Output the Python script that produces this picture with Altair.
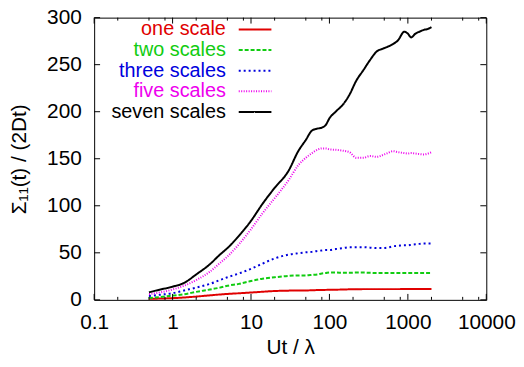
import altair as alt
import pandas as pd

# ---------------- data ----------------
names = ["one scale", "two scales", "three scales", "five scales", "seven scales"]
colors = ["#e00000", "#11cc11", "#0000dd", "#ee00ee", "#000000"]

ut = [0.5, 0.7, 1, 1.4, 2, 3, 4, 5, 7, 10, 14, 20, 30, 40, 50, 60, 70, 80, 90,
      100, 120, 150, 180, 220, 270, 330, 400, 480, 550, 650, 750, 900, 1000,
      1100, 1250, 1400, 1600, 1800, 2000]

one_scale = [1.0, 1.4, 1.8, 2.5, 3.5, 4.8, 5.7, 6.3, 7.0, 7.8, 8.6, 9.4, 9.8, 10.0,
             10.0, 10.2, 10.4, 10.5, 10.6, 10.7, 10.8, 11.0, 11.2, 11.3, 11.4, 11.4,
             11.4, 11.4, 11.4, 11.4, 11.4, 11.5, 11.5, 11.5, 11.5, 11.5, 11.5, 11.5, 11.5]
two_scales = [2.0, 3.0, 4.5, 6.0, 8.5, 11.0, 13.0, 15.0, 17.0, 20.0, 22.5, 24.0, 25.5,
              26.0, 26.0, 26.5, 27.0, 28.0, 28.5, 29.0, 29.0, 28.8, 28.8, 29.0, 29.0,
              28.8, 28.5, 28.5, 28.5, 28.5, 28.5, 28.5, 28.5, 28.5, 28.5, 28.5, 28.5,
              28.5, 28.5]
three_scales = [4.0, 5.5, 7.0, 10.0, 13.0, 17.0, 21.0, 24.0, 28.0, 33.0, 38.5, 44.0,
                48.0, 49.5, 50.5, 51.0, 52.0, 52.5, 53.0, 53.0, 54.0, 55.0, 56.0, 56.0,
                56.0, 55.5, 55.0, 55.0, 55.5, 57.0, 57.5, 58.0, 58.0, 58.5, 59.0, 59.5,
                60.0, 60.0, 60.0]
five_scales = [6.0, 8.0, 11.0, 15.0, 21.0, 30.0, 39.0, 46.0, 59.0, 75.0, 92.0, 108.0,
               127.0, 143.0, 151.0, 156.0, 159.5, 161.0, 161.0, 160.0, 159.5, 158.5,
               157.0, 151.0, 151.0, 153.0, 152.0, 154.0, 156.0, 158.0, 157.0, 156.0,
               155.5, 156.0, 155.5, 155.0, 154.5, 155.5, 157.0]
seven_scales = [8.0, 11.0, 14.0, 18.0, 27.0, 38.0, 48.0, 55.0, 68.0, 84.0, 102.0, 119.0,
                137.0, 158.0, 170.0, 180.0, 182.0, 183.0, 186.0, 193.0, 200.0, 208.0,
                218.0, 233.0, 244.0, 255.0, 264.0, 267.0, 269.0, 272.0, 276.0, 285.0,
                283.0, 279.0, 283.0, 285.0, 287.0, 288.0, 290.0]

x_major = [0.1, 1, 10, 100, 1000, 10000]
x_minor = [0.2, 0.5, 0.8, 2, 5, 8, 20, 50, 80, 200, 500, 800, 2000, 5000, 8000]
y_major = [0, 50, 100, 150, 200, 250, 300]

# ---------------- tables ----------------
series = [one_scale, two_scales, three_scales, five_scales, seven_scales]
rows = []
for n, vals in zip(names, series):
    for x, v in zip(ut, vals):
        rows.append({"series": n, "ut": x, "sigma": v})
df = pd.DataFrame(rows)

legend_df = pd.DataFrame({"series": names, "row": list(range(len(names)))})
xt_df = pd.DataFrame({"ut": x_major + x_minor,
                      "len": [6] * len(x_major) + [3] * len(x_minor)})
yt_df = pd.DataFrame({"sigma": y_major})

W, H = 396, 285
FONT = "Liberation Sans"
FS = 21

xscale = alt.Scale(type="log", domain=[0.1, 10000], nice=False)
yscale = alt.Scale(domain=[0, 300], nice=False, zero=False)

xaxis = alt.Axis(values=x_major, format="~g", ticks=False, domain=False,
                 grid=False, labelPadding=12, labelFontSize=FS,
                 labelFont=FONT, labelColor="black", labelFlush=False,
                 titleFont=FONT, titleFontSize=FS,
                 titleFontWeight="normal", titleColor="black",
                 titleX=W / 2, titleY=54, titleBaseline="alphabetic")
yaxis = alt.Axis(values=y_major, ticks=False, domain=False, grid=False,
                 labelPadding=13, labelFontSize=FS, labelFont=FONT,
                 labelColor="black", labelFlush=False,
                 titleFont=FONT, titleFontSize=FS,
                 titleFontWeight="normal", titleColor="black",
                 titleX=-69, titleY=H / 2, titleAngle=270,
                 titleBaseline="alphabetic", titleAlign="center")
XT = "Ut / λ"
YT = "Σ₁₁(t) / (2Dt)"

color = alt.Color("series:N", scale=alt.Scale(domain=names, range=colors), legend=None)
dash = alt.StrokeDash("series:N",
                      scale=alt.Scale(domain=names,
                                      range=[[1, 0], [4, 2], [2, 3], [1, 1.5], [1, 0]]),
                      legend=None)
swidth = alt.StrokeWidth("series:N",
                         scale=alt.Scale(domain=names, range=[2, 2, 2.5, 1.6, 2]),
                         legend=None)

lines = alt.Chart(df).mark_line(strokeCap="butt", interpolate="monotone").encode(
    x=alt.X("ut:Q", scale=xscale, axis=xaxis, title=XT),
    y=alt.Y("sigma:Q", scale=yscale, axis=yaxis, title=YT),
    color=color,
    strokeDash=dash,
    strokeWidth=swidth,
    detail="series:N",
)

# inward ticks (bottom / top / left / right)
x_bottom = alt.Chart(xt_df).transform_calculate(
    y0=f"{H}", y1=f"{H} - datum.len"
).mark_rule(color="black", strokeWidth=1).encode(
    x=alt.X("ut:Q", scale=xscale, axis=xaxis, title=XT),
    y=alt.Y("y0:Q", scale=None), y2="y1:Q")
x_top = alt.Chart(xt_df).transform_calculate(
    y0="0", y1="datum.len"
).mark_rule(color="black", strokeWidth=1).encode(
    x=alt.X("ut:Q", scale=xscale, axis=xaxis, title=XT),
    y=alt.Y("y0:Q", scale=None), y2="y1:Q")
y_left = alt.Chart(yt_df).mark_rule(color="black", strokeWidth=1).encode(
    y=alt.Y("sigma:Q", scale=yscale, axis=yaxis, title=YT),
    x=alt.value(0), x2=alt.value(6))
y_right = alt.Chart(yt_df).mark_rule(color="black", strokeWidth=1).encode(
    y=alt.Y("sigma:Q", scale=yscale, axis=yaxis, title=YT),
    x=alt.value(W), x2=alt.value(W - 6))

# key, inside top-left (text right-aligned, sample to the right)
leg_base = alt.Chart(legend_df).transform_calculate(ypx="12 + 20.8 * datum.row")
leg_text = leg_base.mark_text(align="right", baseline="middle", font=FONT,
                              fontSize=20).encode(
    x=alt.value(133), y=alt.Y("ypx:Q", scale=None), text="series:N", color=color)
leg_line = leg_base.mark_rule(strokeCap="butt").encode(
    x=alt.value(146), x2=alt.value(179), y=alt.Y("ypx:Q", scale=None),
    color=color, strokeDash=dash, strokeWidth=swidth)

chart = alt.layer(lines, x_bottom, x_top, y_left, y_right, leg_line, leg_text).properties(
    width=W, height=H,
    autosize=alt.AutoSizeParams(type="none"),
    padding={"left": 87, "top": 8, "right": 30, "bottom": 58},
    background="white",
).configure_view(stroke="black", strokeWidth=1)

chart.save("out.html", embed_options={"renderer": "svg", "actions": False})
